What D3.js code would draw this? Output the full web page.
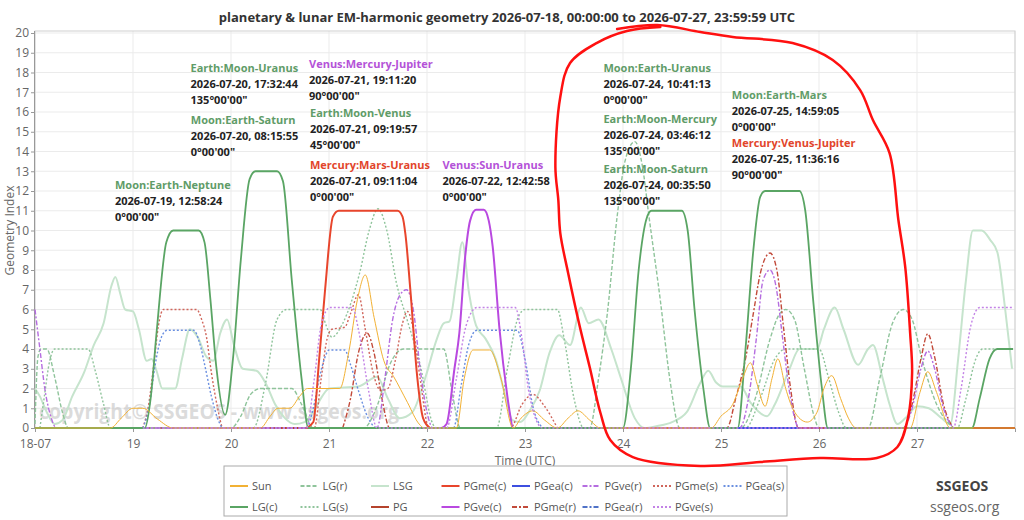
<!DOCTYPE html>
<html>
<head>
<meta charset="utf-8">
<script src="https://cdn.jsdelivr.net/npm/d3@7"></script>
<style>
  body { margin: 0; background: #fff; }
  text { font-family: "Open Sans", "Noto Sans", sans-serif; }
</style>
</head>
<body>
<div id="chart-area"></div>
<script>
// data: [day since 2026-07-18 00:00, index]
let dayTicks = ['18-07', '19', '20', '21', '22', '23', '24', '25', '26', '27'];
let dayTickVals = [0, 1, 2, 3, 4, 5, 6, 7, 8, 9];
let yTicks = [0, 1, 2, 3, 4, 5, 6, 7, 8, 9, 10, 11, 12, 13, 14, 15, 16, 17, 18, 19, 20];

let sunPts = [[0,0],[0.77,0],[0.88,0.5],[1.0,1.0],[1.1,1.0],[1.25,0.45],[1.41,0],[2.3,0],[2.4,0.6],[2.48,1.0],
  [2.6,1.0],[2.7,1.6],[2.78,2.0],[3.11,2.0],[3.2,3.8],[3.29,6.5],[3.37,7.75],[3.46,5.6],[3.56,3.4],[3.66,2.6],
  [3.8,1.3],[3.92,0.2],[3.97,0],[4.3,0],[4.38,2.5],[4.47,3.95],[4.64,3.95],[4.75,2.6],[4.88,0],[4.96,0.5],
  [5.08,0.87],[5.2,0.4],[5.33,0],[5.44,0.5],[5.54,0.87],[5.66,0.4],[5.77,0],[6.9,0],[7.0,0.6],[7.12,1.2],
  [7.22,2.5],[7.3,3.3],[7.37,2.2],[7.45,1.1],[7.52,2.5],[7.58,3.5],[7.66,2.0],[7.74,0.9],[7.88,0.3],[7.98,0.8],
  [8.05,2.0],[8.13,2.65],[8.22,1.5],[8.3,0.5],[8.38,0],[8.93,0],[9.03,1.8],[9.11,2.85],[9.2,1.8],[9.34,0],[10,0]];

let lgcPts = [[0,0],[1.12,0],[1.18,1.5],[1.24,4.8],[1.34,9.4],[1.41,10],[1.67,10],[1.73,9.4],[1.79,6.5],[1.85,3.1],
  [1.94,0.66],[2.02,3.5],[2.1,8.5],[2.19,12.6],[2.25,13],[2.47,13],[2.53,12.5],[2.62,7.5],[2.72,2.5],[2.79,0],
  [6.0,0],[6.08,3],[6.16,8],[6.24,10.6],[6.29,11],[6.6,11],[6.66,10],[6.73,6],[6.82,2],[6.89,0],
  [7.17,0],[7.25,4],[7.33,9],[7.4,11.7],[7.45,12],[7.8,12],[7.86,11],[7.94,6.5],[8.03,2],[8.09,0],
  [9.56,0],[9.64,1.5],[9.74,3.5],[9.82,4],[9.98,4]];

let lgrPts = [[0,0.2],[0.03,3.6],[0.06,4],[0.12,4],[0.2,2.6],[0.28,0.8],[0.34,0],
  [2.0,0],[2.1,0.6],[2.2,1.7],[2.3,2.0],[2.62,2.0],[2.72,1.2],[2.84,0],
  [3.35,0],[3.49,1.1],[3.62,3.2],[3.76,4],[4.17,4],[4.26,1.7],[4.34,0],
  [5.66,0],[5.75,2.5],[5.84,5.8],[5.94,10.7],[6.02,13.5],[6.12,14.5],[6.2,13.2],[6.26,10.9],[6.38,6.5],[6.48,2.4],[6.58,0],
  [7.2,0],[7.35,1.5],[7.5,4.5],[7.6,5.8],[7.66,6],[7.75,5.5],[7.85,3],[7.95,0.6],[8.0,0],
  [8.5,0],[8.62,2.5],[8.75,5.3],[8.86,6],[8.95,5.5],[9.05,3.5],[9.2,1.2],[9.37,0]];

let lgsPts = [[0.05,0],[0.09,1.4],[0.15,3.4],[0.2,4],[0.54,4],[0.62,2.8],[0.7,1.2],[0.77,0],
  [2.23,0],[2.35,2.2],[2.47,5.5],[2.57,6],[2.91,6],[2.97,5.2],[3.03,4.6],[3.14,5.3],[3.31,7.8],[3.41,10.0],
  [3.5,11.1],[3.59,10.0],[3.69,7.3],[3.79,5.6],[3.93,3.2],[4.06,0.2],[4.1,0],
  [4.71,0],[4.82,3],[4.93,5.6],[5.0,6],[5.33,6],[5.4,4.5],[5.5,1.5],[5.6,0],
  [7.25,0],[7.4,1.5],[7.55,3.5],[7.66,4],[8.0,4],[8.1,2.5],[8.2,0.8],[8.28,0],
  [9.41,0],[9.5,1.5],[9.6,3.5],[9.67,4],[9.98,4]];

let lsgPts = [[0,2.0],[0.05,1.6],[0.12,0.8],[0.2,0.2],[0.28,0.4],[0.38,1.6],[0.5,2.8],[0.6,4.2],[0.7,5.3],
  [0.78,7.2],[0.82,7.65],[0.87,6.8],[0.92,6.0],[1.0,5.9],[1.06,5.0],[1.14,3.4],[1.19,3.5],[1.24,2.9],[1.3,2.0],
  [1.43,2.0],[1.5,3.5],[1.58,5.0],[1.66,4.6],[1.75,3.6],[1.82,3.4],[1.89,4.8],[1.96,5.5],[2.03,4.2],[2.12,3.0],
  [2.26,2.9],[2.36,2.2],[2.45,1.2],[2.55,0.5],[2.65,0.2],[2.75,0.3],[2.85,0.9],[2.93,1.6],[3.0,2.0],[3.3,2.1],
  [3.49,2.6],[3.6,1.5],[3.72,0.5],[3.85,0.8],[3.98,2.5],[4.1,4.5],[4.17,5.3],[4.23,5.4],[4.3,7.5],[4.36,9.4],
  [4.43,6.8],[4.5,5.2],[4.6,4.5],[4.7,3.5],[4.8,1.6],[4.87,0.4],[4.95,0.3],[5.05,0.9],[5.15,1.9],[5.25,3.8],
  [5.35,4.7],[5.46,4.2],[5.57,6.1],[5.65,5.3],[5.75,5.5],[5.88,4.0],[5.98,2.5],[6.12,0.5],[6.22,0],[6.35,0.1],
  [6.5,0.3],[6.65,0.8],[6.78,2.2],[6.87,2.9],[6.95,2.3],[7.02,2.1],[7.2,2.1],[7.3,1.3],[7.47,0.6],[7.55,1.2],
  [7.7,3.0],[7.8,4.0],[7.98,4.0],[8.05,5.0],[8.16,6.1],[8.25,5.0],[8.4,3.2],[8.5,4.0],[8.55,4.2],[8.65,2.5],
  [8.72,1.2],[8.8,0.2],[8.9,0.6],[9.0,1.1],[9.12,1.0],[9.25,0.5],[9.34,0.2],[9.42,3.5],[9.5,7.5],[9.57,10],
  [9.66,10],[9.75,9.5],[9.82,8.9],[9.9,6],[9.97,3.0]];

let pgPts = [[0,0],[10,0]];

let pgmecPts = [[2.77,0],[2.84,0.3],[2.9,3.5],[2.96,7.0],[3.04,10.7],[3.1,11],[3.7,11],[3.75,10.7],[3.78,9.8],
  [3.83,7.0],[3.9,2.6],[3.96,0.5],[4.03,0]];

let pgvecPts = [[4.15,0],[4.2,0.2],[4.28,3],[4.33,4.8],[4.39,8.7],[4.44,10.5],[4.5,11.05],[4.58,11.05],
  [4.63,10.5],[4.67,9.2],[4.74,5.0],[4.82,1.6],[4.87,0]];

let pgeacPts = [[7.17,0],[7.79,0]];

let pgmerPts = [[3.14,0],[3.22,1.5],[3.3,3.8],[3.39,4.8],[3.46,3.8],[3.54,1.5],[3.62,0],
  [7.06,0],[7.15,1.5],[7.25,3.5],[7.33,5.8],[7.4,7.8],[7.5,8.86],[7.57,8.0],[7.64,5.0],[7.71,2.0],[7.79,0],
  [8.86,0],[8.95,1.2],[9.04,3.5],[9.11,4.77],[9.18,3.6],[9.27,1.2],[9.37,0]];

let pgverPts = [[0,6.0],[0.05,4.0],[0.1,2.0],[0.16,0.6],[0.22,0],
  [3.49,0],[3.57,2.5],[3.65,5.5],[3.72,6.7],[3.79,7.0],[3.86,6.0],[3.93,3.0],[4.0,0.8],[4.06,0],
  [7.19,0],[7.28,1.5],[7.36,4.5],[7.43,7.5],[7.5,8.0],[7.56,7.2],[7.63,4.5],[7.7,1.8],[7.8,0],
  [8.86,0],[8.95,1.0],[9.04,3.0],[9.11,3.9],[9.18,3.0],[9.27,1.0],[9.37,0]];

let pgearPts = [[2.8,0],[3.0,0]];

let pgmesPts = [[1.1,0],[1.16,1.2],[1.21,3.1],[1.26,5.2],[1.31,6.0],[1.65,6.0],[1.7,5.5],[1.75,4.6],[1.8,2.8],
  [1.86,1.1],[1.92,0],[2.85,0],[2.92,2.5],[2.98,4.5],[3.03,5.0],[3.16,5.1],[3.22,5.8],[3.3,6.75],[3.37,5.0],
  [3.45,2.8],[3.53,1.9],[3.6,2.0],[3.68,3.5],[3.75,5.3],[3.8,5.9],[3.86,5.0],[3.93,2.5],[4.02,0],
  [4.85,0],[4.97,1.2],[5.08,1.7],[5.2,1.1],[5.33,0]];

let pgeasPts = [[1.1,0],[1.17,1.2],[1.22,3.0],[1.29,4.6],[1.35,4.95],[1.62,4.95],[1.68,4.3],[1.74,3.0],
  [1.8,1.6],[1.87,0.4],[1.92,0],[2.77,0],[2.84,1.0],[2.9,2.5],[2.96,3.6],[3.0,3.95],[3.16,3.95],[3.22,3.2],
  [3.3,1.9],[3.4,0.5],[3.49,0],[4.27,0],[4.35,2.2],[4.43,4.3],[4.51,4.95],[4.92,4.95],[5.0,3.5],[5.08,1.1],[5.18,0]];

let pgvesPts = [[1.1,0],[2.77,0],[2.85,2.5],[2.92,5.2],[3.01,6.1],[3.24,6.1],[3.3,5.0],[3.4,2.0],[3.49,0],
  [4.2,0],[4.3,2.5],[4.4,5.2],[4.51,6.1],[4.9,6.1],[4.97,4.5],[5.04,1.8],[5.18,0],[6.0,0],[9.37,0],
  [9.45,2.0],[9.55,5.2],[9.64,6.1],[9.97,6.1]];

let noteNames = ['Moon:Earth-Neptune', 'Earth:Moon-Uranus', 'Moon:Earth-Saturn', 'Venus:Mercury-Jupiter',
  'Earth:Moon-Venus', 'Mercury:Mars-Uranus', 'Venus:Sun-Uranus', 'Moon:Earth-Uranus', 'Earth:Moon-Mercury',
  'Earth:Moon-Saturn', 'Moon:Earth-Mars', 'Mercury:Venus-Jupiter'];
let noteTimes = ['2026-07-19, 12:58:24', '2026-07-20, 17:32:44', '2026-07-20, 08:15:55', '2026-07-21, 19:11:20',
  '2026-07-21, 09:19:57', '2026-07-21, 09:11:04', '2026-07-22, 12:42:58', '2026-07-24, 10:41:13',
  '2026-07-24, 03:46:12', '2026-07-24, 00:35:50', '2026-07-25, 14:59:05', '2026-07-25, 11:36:16'];
let noteAngles = ["0°00'00\"", "135°00'00\"", "0°00'00\"", "90°00'00\"", "45°00'00\"", "0°00'00\"",
  "0°00'00\"", "0°00'00\"", "135°00'00\"", "135°00'00\"", "0°00'00\"", "90°00'00\""];
let noteKinds = ['lunar', 'lunar', 'lunar', 'venus', 'lunar', 'mercury', 'venus', 'lunar', 'lunar', 'lunar', 'lunar', 'mercury'];

// legend order (column major, like the original)
let legendNames = ['Sun', 'LG(c)', 'LG(r)', 'LG(s)', 'LSG', 'PG', 'PGme(c)', 'PGve(c)', 'PGea(c)',
  'PGme(r)', 'PGve(r)', 'PGea(r)', 'PGme(s)', 'PGve(s)', 'PGea(s)'];

// ---- layout / style (not data) ----
let noteAt = [[0.816,12.1],[1.587,18.03],[1.59,15.4],[2.796,18.23],[2.806,15.75],[2.806,13.11],
  [4.158,13.11],[5.8,18.03],[5.8,15.42],[5.8,12.91],[7.11,16.68],[7.11,14.23]];
let noteColors = { lunar: '#5f9c68', venus: '#b452d8', mercury: '#e2452b' };

let seriesStyle = {
  'Sun':     { pts: sunPts,   color: '#f2b134', w: 1,   dash: null },
  'LG(c)':   { pts: lgcPts,   color: '#5aa564', w: 1.8, dash: null },
  'LG(r)':   { pts: lgrPts,   color: '#8fc49b', w: 1.4, dash: '4,2' },
  'LG(s)':   { pts: lgsPts,   color: '#8fc49b', w: 1.4, dash: '2,2' },
  'LSG':     { pts: lsgPts,   color: '#c6e4cd', w: 2,   dash: null },
  'PG':      { pts: pgPts,    color: '#b5432c', w: 2,   dash: null },
  'PGme(c)': { pts: pgmecPts, color: '#e8452c', w: 2,   dash: null },
  'PGve(c)': { pts: pgvecPts, color: '#b949e0', w: 2,   dash: null },
  'PGea(c)': { pts: pgeacPts, color: '#3d4fe0', w: 2,   dash: null },
  'PGme(r)': { pts: pgmerPts, color: '#c24a3a', w: 1.4, dash: '5,2,2,2' },
  'PGve(r)': { pts: pgverPts, color: '#b56de0', w: 1.4, dash: '5,2,2,2' },
  'PGea(r)': { pts: pgearPts, color: '#4f72c7', w: 1.4, dash: '5,2,2,2' },
  'PGme(s)': { pts: pgmesPts, color: '#d0665c', w: 1.4, dash: '2,2' },
  'PGve(s)': { pts: pgvesPts, color: '#c383e6', w: 1.4, dash: '2,2' },
  'PGea(s)': { pts: pgeasPts, color: '#6a8fe0', w: 1.4, dash: '2,2' }
};
// what ends up on top in the original
let drawOrder = ['PG', 'PGea(r)', 'LSG', 'LG(r)', 'LG(s)', 'PGme(s)', 'PGea(s)', 'PGme(r)', 'PGve(r)',
  'PGme(c)', 'PGve(c)', 'LG(c)', 'Sun', 'PGea(c)', 'PGve(s)'];

// a hand drawn loop someone put on the picture, in chart units
let handLoop = [[5.94,20.2],[6.35,20.4],[6.79,20.05],[7.12,19.8],[7.73,19.49],[8.14,18.63],[8.42,17.11],
  [8.55,15.59],[8.72,13.92],[8.81,10.53],[8.88,8.15],[8.93,4.81],[8.95,2.78],[8.91,0.56],[8.8,-0.96],
  [8.59,-1.52],[8.01,-1.52],[7.4,-1.72],[6.79,-1.92],[6.1,-1.47],[5.87,-0.61],[5.77,0.76],[5.66,3.09],
  [5.56,5.11],[5.44,7.85],[5.36,9.87],[5.34,11.54],[5.31,13.22],[5.36,16.76],[5.46,18.48],[5.73,19.49],
  [6.04,20.1],[6.38,20.3]];

let margin = { left: 35, right: 9, top: 33, bottom: 92 };
let width = 1024 - margin.left - margin.right;
let height = 520 - margin.top - margin.bottom;

let svg = d3.select('#chart-area').append('svg')
  .attr('width', 1024)
  .attr('height', 520);

let g = svg.append('g')
  .attr('transform', `translate(${margin.left}, ${margin.top})`);

let x = d3.scaleLinear().domain([0, 10]).range([0, width]);
let y = d3.scaleLinear().domain([0, 20]).range([height, 0]);

// grid
g.append('g').selectAll('line.h')
  .data(yTicks)
  .enter().append('line')
  .attr('x1', 0).attr('x2', width)
  .attr('y1', d => y(d)).attr('y2', d => y(d))
  .attr('stroke', '#ebebeb');
g.append('g').selectAll('line.v')
  .data(dayTickVals.concat([10]))
  .enter().append('line')
  .attr('y1', -2).attr('y2', height)
  .attr('x1', d => x(d)).attr('x2', d => x(d))
  .attr('stroke', '#ebebeb');
g.append('rect')
  .attr('x', 0).attr('y', -2)
  .attr('width', width).attr('height', height + 2)
  .attr('fill', 'none').attr('stroke', '#cfcfcf');

// watermark
g.append('text')
  .attr('x', 4).attr('y', height - 9)
  .attr('textLength', 360)
  .attr('lengthAdjust', 'spacingAndGlyphs')
  .attr('font-size', 21).attr('font-weight', 'bold')
  .attr('fill', '#c4c4c4').attr('fill-opacity', 0.6)
  .text('copyright© SSGEOS - www.ssgeos.org');

// axes
let leftAxis = d3.axisLeft(y).tickValues(yTicks).tickSize(4).tickPadding(2);
let ya = g.append('g').attr('class', 'left-axis').call(leftAxis);
let bottomAxis = d3.axisBottom(x).tickValues(dayTickVals).tickSize(4)
  .tickFormat((d, i) => dayTicks[i]);
let xa = g.append('g').attr('class', 'bottom-axis')
  .attr('transform', `translate(0, ${height})`)
  .call(bottomAxis);
[ya, xa].forEach(a => {
  a.select('.domain').attr('stroke', '#999');
  a.selectAll('.tick line').attr('stroke', '#999');
  a.selectAll('text').attr('fill', '#666').attr('font-size', 12)
    .attr('font-family', '"Open Sans", "Noto Sans", sans-serif');
});
xa.selectAll('text').attr('dy', '1.05em');
ya.select('.domain').attr('d', `M-0.5,${height}V-2`);

svg.append('text')
  .attr('transform', `translate(14, ${margin.top + height / 2}) rotate(-90)`)
  .attr('text-anchor', 'middle')
  .attr('font-size', 12).attr('fill', '#666')
  .text('Geometry Index');
svg.append('text')
  .attr('x', margin.left + width / 2).attr('y', 465)
  .attr('text-anchor', 'middle')
  .attr('font-size', 12).attr('fill', '#666')
  .text('Time (UTC)');

// series
let line = d3.line()
  .x(d => x(d[0]))
  .y(d => y(d[1]))
  .curve(d3.curveMonotoneX);

drawOrder.forEach(name => {
  let s = seriesStyle[name];
  g.append('path')
    .datum(s.pts)
    .attr('fill', 'none')
    .attr('stroke', s.color)
    .attr('stroke-width', s.w)
    .attr('stroke-dasharray', s.dash)
    .attr('d', line);
});

// event notes
noteNames.forEach((n, i) => {
  let t = g.append('text')
    .attr('x', x(noteAt[i][0]))
    .attr('y', y(noteAt[i][1]))
    .attr('font-size', 11).attr('font-weight', 'bold');
  t.append('tspan').attr('fill', noteColors[noteKinds[i]]).text(n);
  t.append('tspan').attr('x', x(noteAt[i][0])).attr('dy', 16).attr('fill', '#222').text(noteTimes[i]);
  t.append('tspan').attr('x', x(noteAt[i][0])).attr('dy', 16).attr('fill', '#222').text(noteAngles[i]);
});

// title
svg.append('text')
  .attr('x', 507).attr('y', 22)
  .attr('text-anchor', 'middle')
  .attr('font-size', 13).attr('font-weight', 'bold').attr('fill', '#333')
  .text('planetary & lunar EM-harmonic geometry 2026-07-18, 00:00:00 to 2026-07-27, 23:59:59 UTC');

// legend
let lg = svg.append('g').attr('transform', 'translate(224, 466)');
lg.append('rect')
  .attr('width', 563).attr('height', 50)
  .attr('fill', '#fff').attr('stroke', '#aaa');
legendNames.forEach((n, i) => {
  let s = seriesStyle[n];
  let col = Math.floor(i / 2), row = i % 2;
  let item = lg.append('g').attr('transform', `translate(${6 + col * 70.5}, ${20 + row * 21})`);
  item.append('line')
    .attr('x1', 0).attr('x2', 18)
    .attr('stroke', s.color).attr('stroke-width', 2)
    .attr('stroke-dasharray', s.dash);
  item.append('text')
    .attr('x', 22).attr('y', 4)
    .attr('font-size', 11).attr('fill', '#555')
    .text(n);
});

// site mark
svg.append('text')
  .attr('x', 936).attr('y', 491)
  .attr('font-size', 14).attr('font-weight', 'bold').attr('fill', '#444')
  .text('SSGEOS');
svg.append('text')
  .attr('x', 930).attr('y', 512)
  .attr('font-size', 14).attr('fill', '#666')
  .text('ssgeos.org');

// hand drawn loop
svg.append('path')
  .datum(handLoop)
  .attr('transform', `translate(${margin.left}, ${margin.top})`)
  .attr('fill', 'none')
  .attr('stroke', '#ff1010')
  .attr('stroke-width', 2.5)
  .attr('stroke-linecap', 'round')
  .attr('d', d3.line().x(d => x(d[0])).y(d => y(d[1])).curve(d3.curveCatmullRom));
</script>
</body>
</html>
